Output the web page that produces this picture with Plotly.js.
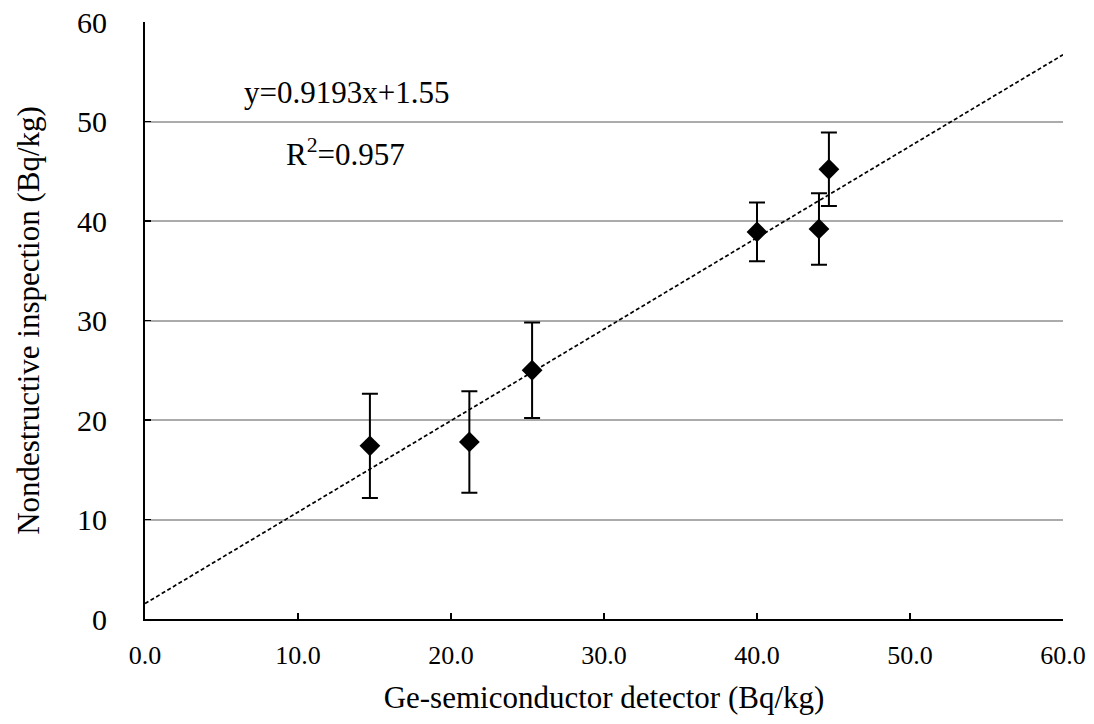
<!DOCTYPE html>
<html>
<head>
<meta charset="utf-8">
<script src="https://cdn.plot.ly/plotly-3.0.1.min.js"></script>
<style>html,body{margin:0;padding:0;background:#fff;}#chart{width:1094px;height:724px;}</style>
</head>
<body>
<div id="chart"></div>
<script>
// Data
const geDetector = [14.7, 21.2, 25.3, 40.0, 44.05, 44.7];
const nondestructive = [17.4, 17.8, 25.0, 38.9, 39.2, 45.2];
const errorValues = [5.25, 5.1, 4.8, 2.95, 3.6, 3.7];
const trendSlope = 0.9193;
const trendIntercept = 1.55;
const trendRange = [0, 60];
const xTickVals = [0, 10, 20, 30, 40, 50, 60];
const yTickVals = [0, 10, 20, 30, 40, 50, 60];
const eqText = "y=0.9193x+1.55";
const r2Text = "R<sup>2</sup>=0.957";

const font = "Liberation Serif, Times New Roman, serif";

const trendY = trendRange.map(x => trendSlope * x + trendIntercept);

const traces = [
  {
    x: trendRange, y: trendY, mode: 'lines', type: 'scatter',
    line: {color: '#000', width: 1.7, dash: '4px,2.5px'},
    hoverinfo: 'skip', showlegend: false
  },
  {
    x: geDetector, y: nondestructive, mode: 'markers', type: 'scatter',
    marker: {symbol: 'diamond', color: '#000', size: 16},
    error_y: {type: 'data', array: errorValues, visible: true, color: '#000', thickness: 2, width: 8},
    showlegend: false
  }
];

const layout = {
  width: 1094, height: 724,
  margin: {l: 145, r: 31, t: 22, b: 105},
  paper_bgcolor: '#fff', plot_bgcolor: '#fff',
  font: {family: font, color: '#000', size: 28},
  xaxis: {
    range: [0, 60], tickvals: xTickVals, tickformat: '.1f',
    showgrid: false, zeroline: false,
    showline: true, linecolor: '#000', linewidth: 2,
    ticks: 'inside', ticklen: 6, tickwidth: 1.5, tickcolor: '#000',
    ticklabelstandoff: 12,
    tickfont: {family: font, size: 26, color: '#000'},
    title: {text: 'Ge-semiconductor detector (Bq/kg)', font: {family: font, size: 31, color: '#000'}, standoff: 17}
  },
  yaxis: {
    range: [0, 60], tickvals: yTickVals,
    showgrid: true, gridcolor: '#ababab', gridwidth: 2, zeroline: false,
    showline: true, linecolor: '#000', linewidth: 2,
    ticks: 'inside', ticklen: 6, tickwidth: 1.5, tickcolor: '#000',
    ticklabelstandoff: 30,
    tickfont: {family: font, size: 30, color: '#000'},
    title: {text: 'Nondestructive inspection (Bq/kg)', font: {family: font, size: 31, color: '#000'}, standoff: 28}
  },
  annotations: [
    {x: 346, y: 92, text: eqText},
    {x: 345, y: 152, text: r2Text}
  ].map(a => Object.assign(a, {xref: 'paper', yref: 'paper', showarrow: false,
     xanchor: 'center', yanchor: 'middle', font: {family: font, size: 31, color: '#000'}}))
};
// convert annotation pixel positions into paper coords
const pw = 1094 - 145 - 31, ph = 724 - 22 - 105;
layout.annotations.forEach(a => {
  a.x = (a.x - 145) / pw;
  a.y = (724 - 105 - a.y) / ph;
});

Plotly.newPlot('chart', traces, layout, {displayModeBar: false, staticPlot: true});
</script>
</body>
</html>
